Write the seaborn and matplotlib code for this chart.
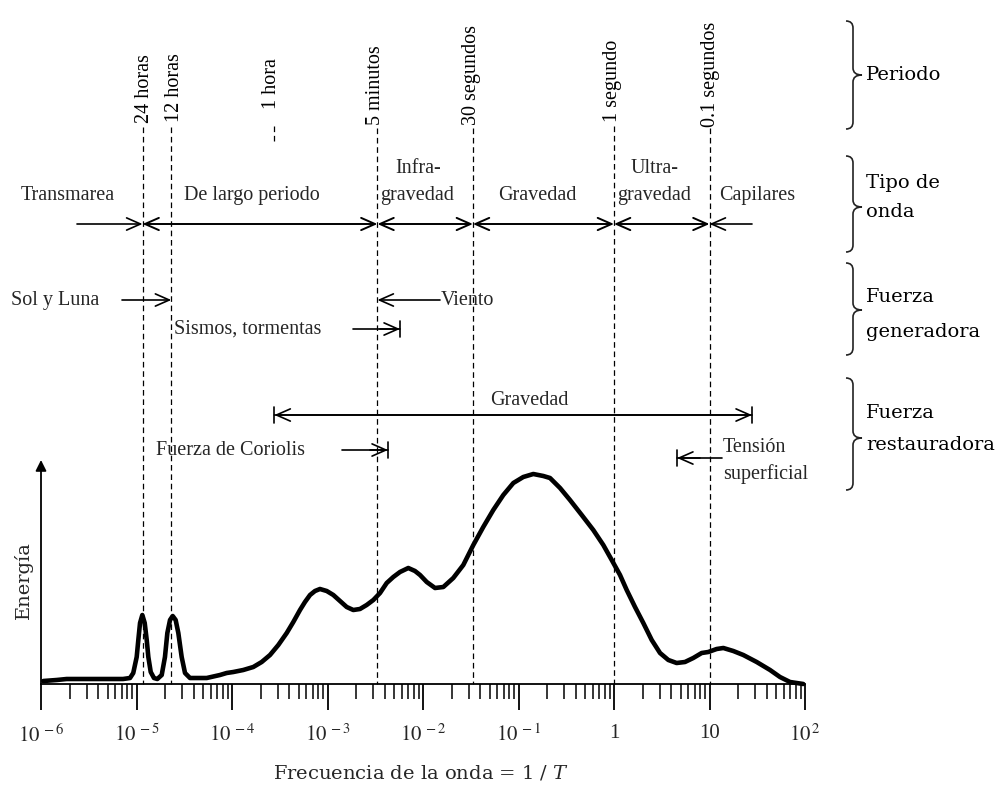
import numpy as np
import matplotlib
matplotlib.use("Agg")
import matplotlib.pyplot as plt
from matplotlib.path import Path
from matplotlib.patches import PathPatch
import seaborn as sns

# ---------------- data ----------------
log_freq = [-5.976, -5.836, -5.731, -5.417, -5.141, -5.068,
            -5.034, -4.998, -4.981, -4.963, -4.939, -4.914, -4.893, -4.876, -4.851,
            -4.817, -4.782, -4.736, -4.702, -4.677, -4.649, -4.621, -4.590, -4.562,
            -4.527, -4.492, -4.440, -4.265, -4.126, -4.056, -3.986, -3.882, -3.777,
            -3.689, -3.602, -3.515, -3.427, -3.358, -3.288, -3.236, -3.183, -3.131,
            -3.079, -3.008, -2.939, -2.869, -2.799, -2.730, -2.660, -2.590, -2.520,
            -2.450, -2.380, -2.311, -2.241, -2.154, -2.084, -2.031, -1.961, -1.874,
            -1.787, -1.683, -1.578, -1.473, -1.369, -1.264, -1.159, -1.054, -0.950,
            -0.845, -0.740, -0.670, -0.565, -0.461, -0.338, -0.217, -0.112, -0.024,
            0.063, 0.133, 0.220, 0.307, 0.395, 0.482, 0.569, 0.656, 0.743, 0.830,
            0.918, 0.987, 1.075, 1.145, 1.249, 1.354, 1.494, 1.634, 1.738, 1.843,
            1.982]
energy = [3, 4, 5, 5, 5, 6,
          11, 27, 44, 61, 69, 61, 44, 27, 12,
          6, 5, 9, 27, 51, 64, 68, 64, 51,
          27, 11, 6, 6, 9, 11, 12, 14, 17,
          22, 29, 39, 51, 62, 74, 82, 89, 93,
          95, 93, 89, 83, 77, 74, 75, 79, 84,
          91, 101, 107, 112, 116, 113, 109, 102, 96,
          97, 106, 119, 139, 157, 174, 189, 201, 207,
          210, 208, 206, 196, 184, 169, 154, 139, 124,
          109, 94, 77, 61, 44, 31, 24, 21, 22, 26,
          31, 32, 35, 36, 33, 29, 22, 14, 7, 2,
          0]

period_labels = ["24 horas", "12 horas", "1 hora", "5 minutos", "30 segundos", "1 segundo", "0.1 segundos"]
period_seconds = [86400, 43200, 3600, 300, 30, 1, 0.1]

major_ticks = [1e-6, 1e-5, 1e-4, 1e-3, 1e-2, 1e-1, 1, 10, 100]
major_labels = [r"$10^{\,-6}$", r"$10^{\,-5}$", r"$10^{\,-4}$", r"$10^{\,-3}$", r"$10^{\,-2}$",
                r"$10^{\,-1}$", "1", "10", r"$10^{\,2}$"]

wave_types = ["Transmarea", "De largo periodo", "Infra-\ngravedad", "Gravedad",
              "Ultra-\ngravedad", "Capilares"]

# ---------------- style ----------------
sns.set_theme(style="white")
plt.rcParams["font.family"] = ["Liberation Serif", "DejaVu Serif"]
plt.rcParams["mathtext.fontset"] = "stix"

BASE = 684.0   # pixel row of the frequency axis
PXD = 95.5     # pixels per decade
X0 = 41.0      # pixel column of 1e-6

def F(px):
    return 10 ** (-6 + (px - X0) / PXD)

def Y(py):
    return BASE - py

fig = plt.figure(figsize=(10, 7.88), dpi=100)
ax = fig.add_axes([0, 0, 1, 1])
ax.set_xscale("log")
ax.set_xlim(F(0), F(1000))
ax.set_ylim(BASE - 788, BASE)
ax.patch.set_alpha(0)

freq = 10 ** np.array(log_freq)
sns.lineplot(x=freq, y=energy, ax=ax, color="black", linewidth=3.3,
             estimator=None, sort=False)
ax.lines[-1].set_solid_joinstyle("round")
ax.lines[-1].set_solid_capstyle("round")

# axes / ticks
for s in ["top", "right", "left"]:
    ax.spines[s].set_visible(False)
ax.spines["bottom"].set_position(("data", 0))
ax.spines["bottom"].set_bounds(1e-6, 1e2)
ax.spines["bottom"].set_linewidth(1.3)
ax.spines["bottom"].set_color("black")
ax.set_yticks([])
ax.set_xticks(major_ticks, labels=major_labels)
minor = [m * 10.0 ** e for e in range(-6, 2) for m in range(2, 10)]
ax.set_xticks(minor, minor=True)
ax.tick_params(axis="x", which="major", direction="out", length=19, width=1.3,
               color="black", labelsize=15, pad=10, bottom=True)
ax.tick_params(axis="x", which="minor", direction="out", length=11, width=1.1,
               color="black", bottom=True)
ax.set_ylabel("")
ax.set_xlabel("")

# energy axis arrow
ax.annotate("", xy=(1e-6, Y(460)), xytext=(1e-6, 0),
            arrowprops=dict(arrowstyle="-|>", color="black", lw=1.3,
                            shrinkA=0, shrinkB=0, mutation_scale=16))

# dashed period lines
tops = {"24 horas": 127, "12 horas": 127, "5 minutos": 128, "30 segundos": 128,
        "1 segundo": 126, "0.1 segundos": 128}
for lab, sec in zip(period_labels, period_seconds):
    f = 1.0 / sec
    if lab == "1 hora":
        ax.plot([f, f], [Y(126), Y(141)], color="black", lw=0.9, dashes=(4.5, 3))
        continue
    ax.plot([f, f], [Y(tops[lab]), 0], color="black", lw=0.9, dashes=(4.5, 3))

# overlay axes in pixel coordinates for text and braces
ov = fig.add_axes([0, 0, 1, 1])
ov.set_xlim(0, 1000)
ov.set_ylim(788, 0)
ov.axis("off")
ov.patch.set_alpha(0)

def fpx(f):
    return X0 + PXD * (np.log10(f) + 6)

label_dx = {"24 horas": 2, "12 horas": 3, "1 hora": -3, "5 minutos": -2,
            "30 segundos": -1, "1 segundo": -2, "0.1 segundos": 1}
label_bottom = {"24 horas": 123, "12 horas": 122, "1 hora": 109, "5 minutos": 125,
                "30 segundos": 125, "1 segundo": 122, "0.1 segundos": 127}
for lab, sec in zip(period_labels, period_seconds):
    ov.text(fpx(1.0 / sec) + label_dx[lab], label_bottom[lab], lab, rotation=90,
            ha="center", va="bottom", fontsize=14.5, color="black")

TS = 14.5
# Tipo de onda
ov.text(68, 195, wave_types[0], ha="center", va="center", fontsize=TS)
ov.text(252, 195, wave_types[1], ha="center", va="center", fontsize=TS)
ov.text(418, 168, wave_types[2].split("\n")[0], ha="center", va="center", fontsize=TS)
ov.text(417, 195, wave_types[2].split("\n")[1], ha="center", va="center", fontsize=TS)
ov.text(537, 195, wave_types[3], ha="center", va="center", fontsize=TS)
ov.text(655, 168, wave_types[4].split("\n")[0], ha="center", va="center", fontsize=TS)
ov.text(654, 195, wave_types[4].split("\n")[1], ha="center", va="center", fontsize=TS)
ov.text(757, 195, wave_types[5], ha="center", va="center", fontsize=TS)

ap = dict(color="black", lw=1.2, shrinkA=0, shrinkB=0, mutation_scale=20)
def arrow(x0, x1, y, style, **kw):
    d = dict(ap)
    d.update(kw)
    ax.annotate("", xy=(x1, Y(y)), xytext=(x0, Y(y)),
                arrowprops=dict(arrowstyle=style, **d))

f24, f12, f1h, f5m, f30, f1, f01 = [1.0 / s for s in period_seconds]
hs = "->, head_length=0.5, head_width=0.22"
hs2 = "<->, head_length=0.5, head_width=0.22"
arrow(F(77), f24, 224, hs)
for a, b in [(f24, f5m), (f5m, f30), (f30, f1), (f1, f01)]:
    arrow(a, b, 224, hs2, lw=1.4)
arrow(F(752), f01, 224, hs)

# Fuerza generadora
ov.text(55, 300, "Sol y Luna", ha="center", va="center", fontsize=TS)
arrow(F(122), f12, 300, hs)
ov.text(467, 300, "Viento", ha="center", va="center", fontsize=TS)
arrow(F(440), f5m, 300, hs)
ov.text(248, 329, "Sismos, tormentas", ha="center", va="center", fontsize=TS)
arrow(F(353), F(400), 329, hs)
arrow(F(380), F(400), 329, "-[, widthB=0.3, lengthB=0")

# Fuerza restauradora
ov.text(529, 400, "Gravedad", ha="center", va="center", fontsize=TS)
arrow(f1h, F(752), 415, hs2)
arrow(f1h, F(752), 415, "|-|, widthA=0.3, widthB=0.3")
ov.text(230, 450, "Fuerza de Coriolis", ha="center", va="center", fontsize=TS)
arrow(F(342), F(388), 450, hs)
arrow(F(370), F(388), 450, "-[, widthB=0.3, lengthB=0")
ov.text(723, 447, "Tensión", ha="left", va="center", fontsize=TS)
ov.text(723, 474, "superficial", ha="left", va="center", fontsize=TS)
arrow(F(722), F(677), 458, hs)
arrow(F(700), F(677), 458, "-[, widthB=0.3, lengthB=0")

# braces
def brace(top, bot, mid, x0=846, xc=853, xt=862, r=7):
    verts = [(x0, top), (xc, top), (xc, top + r),
             (xc, mid - r),
             (xc, mid), (xt, mid),
             (xc, mid), (xc, mid + r),
             (xc, bot - r),
             (xc, bot), (x0, bot)]
    codes = [Path.MOVETO, Path.CURVE3, Path.CURVE3,
             Path.LINETO,
             Path.CURVE3, Path.CURVE3,
             Path.CURVE3, Path.CURVE3,
             Path.LINETO,
             Path.CURVE3, Path.CURVE3]
    ov.add_patch(PathPatch(Path(verts, codes), fill=False, lw=1.2, edgecolor="#222222"))

brace(21, 129, 75)
brace(156, 252, 207)
brace(263, 355, 310)
brace(378, 490, 438)

BF = dict(fontsize=14, family="DejaVu Serif", ha="left", va="center", color="black")
ov.text(866, 75, "Periodo", **BF)
ov.text(866, 183, "Tipo de", **BF)
ov.text(866, 212, "onda", **BF)
ov.text(866, 297, "Fuerza", **BF)
ov.text(866, 332, "generadora", **BF)
ov.text(866, 413, "Fuerza", **BF)
ov.text(866, 445, "restauradora", **BF)

# axis labels
ov.text(23, 580, "Energía", rotation=90, ha="center", va="center", fontsize=14,
        family="DejaVu Serif")
ov.text(421, 773, "Frecuencia de la onda = 1 / $T$", ha="center", va="center",
        fontsize=14, family="DejaVu Serif", math_fontfamily="dejavuserif")

fig.savefig("out.png", dpi=100)
